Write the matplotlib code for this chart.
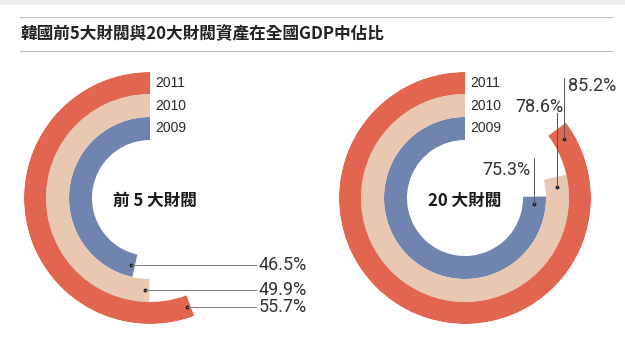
import matplotlib
matplotlib.use('Agg')
import matplotlib.pyplot as plt
from matplotlib.lines import Line2D
import numpy as np

# data
title = '韓國前5大財閥與20大財閥資產在全國GDP中佔比'
years = ['2009', '2010', '2011']
groups = ['前 5 大財閥', '20 大財閥']
top5 = [46.5, 49.9, 55.7]
top20 = [75.3, 78.6, 85.2]

# style
colors = ['#6F84AE', '#E9C8B2', '#E1654F']
ring_bottom = [58, 81, 104]
ring_height = [23, 23, 22]
text_color = '#2a2a2a'
pct_font = ['Roboto', 'DejaVu Sans']
cjk_font = ['Noto Sans CJK TC', 'DejaVu Sans']

W, H = 625, 352
fig = plt.figure(figsize=(W / 100, H / 100), dpi=100)
fig.patch.set_facecolor('white')


def px_axes(cx, cy, r):
    # cx, cy measured from top-left in pixels
    return [(cx - r) / W, (H - cy - r) / H, 2 * r / W, 2 * r / H]


def draw_rings(ax, values):
    ax.set_theta_zero_location('N')
    ax.set_theta_direction(1)
    for v, b, h, c in zip(values, ring_bottom, ring_height, colors):
        ax.bar(0, h, width=v / 100 * 2 * np.pi, bottom=b, align='edge',
               color=c, edgecolor='none')
    ax.set_ylim(0, 126)
    ax.axis('off')
    for yr, b, h in zip(years, ring_bottom, ring_height):
        ax.annotate(yr, xy=(0, b + h / 2), xytext=(4, 0), textcoords='offset points',
                    ha='left', va='center', fontsize=10, color=text_color,
                    family=['Liberation Sans', 'DejaVu Sans'])


# top decoration lines
fig.add_artist(Line2D([0, 1], [1 - 2 / H, 1 - 2 / H], color='#eeeeee', lw=4))
for yy in [17, 51]:
    fig.add_artist(Line2D([20 / W, 612 / W], [1 - yy / H, 1 - yy / H], color='#bdbdbd', lw=0.8))
fig.text(20 / W, 1 - 34 / H, title, fontsize=12, fontweight='bold', color='#222222',
         family=cjk_font, va='center', ha='left')

# left chart
ax1 = fig.add_axes(px_axes(150, 198, 126), projection='polar')
draw_rings(ax1, top5)
ax1.text(0.52, 0.49, groups[0], ha='center', va='center', fontsize=12, fontweight='bold',
         family=cjk_font, color='#1a1a1a', transform=ax1.transAxes)
left_offset = [3, 3, 1.5]  # degrees back from arc end for the leader dot
for v, b, h, off in zip(top5, ring_bottom, ring_height, left_offset):
    th = (v / 100 * 360 - off) * np.pi / 180
    r = b + h / 2
    x, y = ax1.transData.transform((th, r))
    ax1.plot(th, r, 'o', ms=1.8, color='#222222')
    fig.add_artist(Line2D([x / W, 256 / W], [y / H, y / H], color='#777777', lw=0.7))
    fig.text(259 / W, y / H, f'{v}%', ha='left', va='center', fontsize=13,
             color='#333333', family=pct_font)

# right chart
ax2 = fig.add_axes(px_axes(465, 198, 126), projection='polar')
draw_rings(ax2, top20)
ax2.text(0.5, 0.49, groups[1], ha='center', va='center', fontsize=12, fontweight='bold',
         family=cjk_font, color='#1a1a1a', transform=ax2.transAxes)
# label layout: (line top y, text x offset from line, text y, ha)
right_layout = [(158, -4, 170, 'right'), (113, 7, 107, 'right'), (78, 4, 86, 'left')]
for v, b, h, (ly, dx, ty, ha) in zip(top20, ring_bottom, ring_height, right_layout):
    th = (v / 100 * 360 - 6) * np.pi / 180
    r = b + h / 2
    x, y = ax2.transData.transform((th, r))
    ax2.plot(th, r, 'o', ms=1.8, color='#222222')
    fig.add_artist(Line2D([x / W, x / W], [y / H, 1 - ly / H], color='#555555', lw=0.7))
    fig.text((x + dx) / W, 1 - ty / H, f'{v}%', ha=ha, va='center', fontsize=13,
             color='#333333', family=pct_font)

fig.savefig('out.png', dpi=100, facecolor='white')
